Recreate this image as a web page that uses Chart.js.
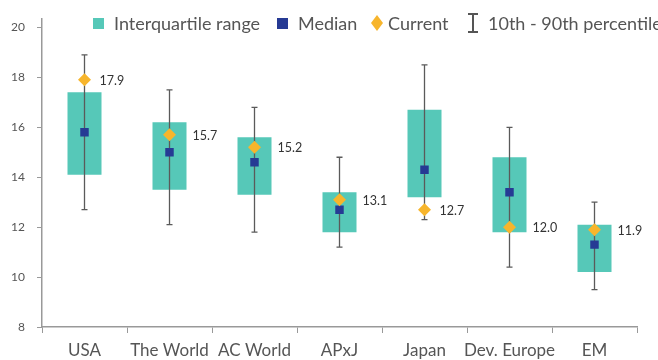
<!DOCTYPE html>
<html>
<head>
<meta charset="utf-8">
<script src="https://cdn.jsdelivr.net/npm/chart.js@4.4.1/dist/chart.umd.min.js"></script>
<style>
    html, body { margin: 0; padding: 0; background: #fff; }
    #wrap { position: relative; width: 658px; height: 360px; }
    .leg { position: absolute; top: 13px; height: 20px; display: flex; align-items: center;
           font-family: Lato, sans-serif; font-size: 18px; color: #555; white-space: nowrap; }
    .sw { display: inline-block; width: 11px; height: 11px; margin-right: 10px; }
    .dia { display: inline-block; width: 12px; height: 16px; margin-right: 5px; background: #F7B52C;
           clip-path: polygon(50% 0, 100% 50%, 50% 100%, 0 50%); }
    .ibeam { display: inline-block; width: 12px; height: 20px; margin-right: 9px; }
</style>
</head>
<body>
<div id="wrap">
    <canvas id="valuationChart" width="658" height="360"></canvas>
    <div class="leg" style="left:93px"><span class="sw" style="background:#56C8B8"></span>Interquartile range</div>
    <div class="leg" style="left:277px"><span class="sw" style="background:#263A94"></span>Median</div>
    <div class="leg" style="left:371px"><span class="dia"></span>Current</div>
    <div class="leg" style="left:467px">
        <svg class="ibeam" viewBox="0 0 12 20"><path d="M1 1H11M6 1V19M1 19H11" stroke="#555" stroke-width="2" fill="none"/></svg>10th - 90th percentile
    </div>
</div>
<script>
const regions = ['USA', 'The World', 'AC World', 'APxJ', 'Japan', 'Dev. Europe', 'EM'];
const p10 = [12.7, 12.1, 11.8, 11.2, 12.3, 10.4, 9.5];
const p25 = [14.1, 13.5, 13.3, 11.8, 13.2, 11.8, 10.2];
const median = [15.8, 15.0, 14.6, 12.7, 14.3, 13.4, 11.3];
const p75 = [17.4, 16.2, 15.6, 13.4, 16.7, 14.8, 12.1];
const p90 = [18.9, 17.5, 16.8, 14.8, 18.5, 16.0, 13.0];
const current = [17.9, 15.7, 15.2, 13.1, 12.7, 12.0, 11.9];
const yTicks = [8, 10, 12, 14, 16, 18, 20];
const yMin = 8;
const yMax = 20.33;

const whiskers = {
    id: 'whiskers',
    afterDatasetDraw(chart, args) {
        if (args.index !== 2) return;
        const ctx = chart.ctx;
        const x = chart.scales.x, y = chart.scales.y;
        ctx.save();
        ctx.strokeStyle = '#5a5a5a';
        ctx.lineWidth = 1.3;
        regions.forEach((r, i) => {
            const cx = x.getPixelForValue(i);
            const top = y.getPixelForValue(p90[i]);
            const bot = y.getPixelForValue(p10[i]);
            ctx.beginPath();
            ctx.moveTo(cx, top); ctx.lineTo(cx, bot);
            ctx.moveTo(cx - 3, top); ctx.lineTo(cx + 3, top);
            ctx.moveTo(cx - 3, bot); ctx.lineTo(cx + 3, bot);
            ctx.stroke();
        });
        ctx.restore();
    },
    afterDatasetsDraw(chart) {
        const ctx = chart.ctx;
        const y = chart.scales.y;
        const bars = chart.getDatasetMeta(2).data;
        ctx.save();
        ctx.font = '12.5px Lato, sans-serif';
        ctx.fillStyle = '#333';
        ctx.textBaseline = 'middle';
        current.forEach((v, i) => {
            const bar = bars[i];
            // label sits beside the diamond, or clear of the box when the diamond is inside it
            const inside = v >= p25[i] && v <= p75[i];
            const lx = inside ? bar.x + bar.width / 2 + 6 : bar.x + 15;
            ctx.fillText(v.toFixed(1), lx, y.getPixelForValue(v) + 1);
        });
        ctx.restore();
    }
};

new Chart(document.getElementById('valuationChart'), {
    type: 'bar',
    data: {
        labels: regions,
        datasets: [
            {
                type: 'line',
                label: 'Current',
                data: current,
                showLine: false,
                pointStyle: 'rectRot',
                pointRadius: 6.5,
                pointBorderWidth: 0,
                backgroundColor: '#F7B52C'
            },
            {
                type: 'line',
                label: 'Median',
                data: median,
                showLine: false,
                pointStyle: 'rect',
                pointRadius: 6,
                pointBorderWidth: 0,
                backgroundColor: '#263A94'
            },
            {
                label: 'Interquartile range',
                data: p25.map((v, i) => [v, p75[i]]),
                backgroundColor: '#56C8B8',
                barPercentage: 0.4,
                categoryPercentage: 1
            }
        ]
    },
    options: {
        responsive: false,
        animation: false,
        layout: { padding: { top: 17, right: 21, left: 0, bottom: 0 } },
        plugins: { legend: { display: false }, tooltip: { enabled: false } },
        scales: {
            x: {
                grid: { drawOnChartArea: false, tickLength: 6, color: '#999', offset: true },
                border: { color: '#999', width: 1.5 },
                ticks: { color: '#555', padding: 7, maxRotation: 0, minRotation: 0, autoSkip: false,
                         font: { family: 'Lato', size: 17 } },
                afterFit: axis => { axis.height = 33; }
            },
            y: {
                min: yMin,
                max: yMax,
                afterBuildTicks: axis => { axis.ticks = yTicks.map(v => ({ value: v })); },
                grid: { drawOnChartArea: false, tickLength: 5, color: '#999' },
                border: { color: '#999', width: 1.5 },
                ticks: { color: '#555', padding: 12, font: { family: 'Lato', size: 12 } },
                afterFit: axis => { axis.width = 42; }
            }
        }
    },
    plugins: [whiskers]
});
</script>
</body>
</html>
